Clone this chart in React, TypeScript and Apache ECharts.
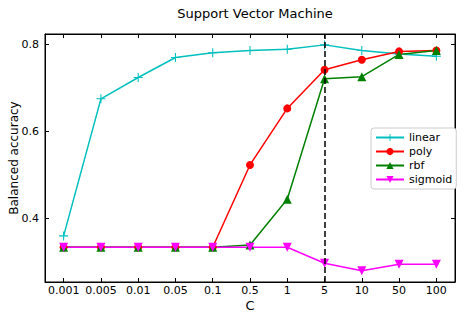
import React, { useEffect, useRef } from "react";
import * as echarts from "echarts";

const categories = ["0.001", "0.005", "0.01", "0.05", "0.1", "0.5", "1", "5", "10", "50", "100"];
const linear = [0.359, 0.674, 0.723, 0.769, 0.78, 0.785, 0.788, 0.798, 0.785, 0.777, 0.772];
const poly = [0.333, 0.333, 0.333, 0.333, 0.333, 0.522, 0.652, 0.741, 0.764, 0.783, 0.785];
const rbf = [0.333, 0.333, 0.333, 0.333, 0.333, 0.338, 0.443, 0.72, 0.725, 0.776, 0.785];
const sigmoid = [0.333, 0.333, 0.333, 0.333, 0.333, 0.333, 0.333, 0.296, 0.279, 0.294, 0.294];
const yTicks = [0.4, 0.6, 0.8];
const bestC = "5";

const FONT = "DejaVu Sans";
const PLUS =
  "path://M-0.12,-1 L0.12,-1 L0.12,-0.12 L1,-0.12 L1,0.12 L0.12,0.12 L0.12,1 L-0.12,1 L-0.12,0.12 L-1,0.12 L-1,-0.12 L-0.12,-0.12 Z";
const DOWN_TRI = "path://M0,1 L-1,-0.8 L1,-0.8 Z";

export default function App() {
  const ref = useRef<HTMLDivElement>(null);
  useEffect(() => {
    if (!ref.current) return;
    const chart = echarts.init(ref.current, undefined, { renderer: "svg" });
    const tickCommon = { show: true, inside: true, length: 4, lineStyle: { color: "#000", width: 1 } };
    const mk = (name: string, data: number[], color: string, symbol: string, size: number, extra: any = {}) => ({
      name,
      type: "line",
      data,
      symbol,
      symbolSize: size,
      showSymbol: true,
      lineStyle: { color, width: 1.5 },
      itemStyle: { color },
      ...extra,
    });
    chart.setOption({
      animation: false,
      backgroundColor: "#fff",
      textStyle: { fontFamily: FONT },
      title: {
        text: "Support Vector Machine",
        left: 250,
        textAlign: "center",
        top: 2,
        textStyle: { fontFamily: FONT, fontSize: 13, fontWeight: "normal", color: "#000" },
      },
      grid: {
        left: 45,
        right: 9,
        top: 34,
        bottom: 35,
        outerBoundsMode: "none",
        containLabel: false,
        show: true,
        borderColor: "#000",
        borderWidth: 1,
        backgroundColor: "transparent",
      },
      legend: {
        orient: "vertical",
        left: 371,
        top: 128,
        itemWidth: 28,
        itemHeight: 9,
        itemGap: 3,
        padding: [4, 4, 4, 4],
        backgroundColor: "#fff",
        borderColor: "#ccc",
        borderWidth: 1,
        borderRadius: 3,
        textStyle: { fontFamily: FONT, fontSize: 11, color: "#000" },
        data: ["linear", "poly", "rbf", "sigmoid"],
      },
      xAxis: [
        {
          type: "category",
          data: categories,
          boundaryGap: true,
          name: "C",
          nameLocation: "middle",
          nameGap: 17,
          nameMoveOverlap: false,
          nameTextStyle: { fontFamily: FONT, fontSize: 13, color: "#000" },
          axisLine: { show: true, lineStyle: { color: "#000" } },
          axisTick: { ...tickCommon, alignWithLabel: true, interval: 0 },
          axisLabel: { fontFamily: FONT, fontSize: 11, color: "#000", margin: 3, interval: 0 },
          splitLine: { show: false },
        },
        {
          type: "category",
          data: categories,
          position: "top",
          boundaryGap: true,
          axisLine: { show: true, lineStyle: { color: "#000" } },
          axisTick: { ...tickCommon, alignWithLabel: true, interval: 0 },
          axisLabel: { show: false, interval: 0 },
          splitLine: { show: false },
        },
      ],
      yAxis: [
        {
          type: "value",
          min: 0.253,
          max: 0.823,
          name: "Balanced accuracy",
          nameLocation: "middle",
          nameGap: 25,
          nameMoveOverlap: false,
          nameTextStyle: { fontFamily: FONT, fontSize: 12, color: "#000" },
          axisLine: { show: true, lineStyle: { color: "#000" } },
          axisTick: { ...tickCommon, customValues: yTicks },
          axisLabel: { fontFamily: FONT, fontSize: 11, color: "#000", margin: 6, customValues: yTicks, formatter: (v: number) => v.toFixed(1) },
          splitLine: { show: false },
        },
        {
          type: "value",
          min: 0.253,
          max: 0.823,
          position: "right",
          axisLine: { show: true, lineStyle: { color: "#000" } },
          axisTick: { ...tickCommon, customValues: yTicks },
          axisLabel: { show: false, customValues: yTicks },
          splitLine: { show: false },
        },
      ],
      series: [
        mk("linear", linear, "#00BFBF", PLUS, 9, {
          markLine: {
            silent: true,
            symbol: "none",
            label: { show: false },
            lineStyle: { color: "#000", type: [6, 3], width: 1.5 },
            data: [{ xAxis: bestC }],
            z: 10,
          },
        }),
        mk("poly", poly, "#FF0000", "circle", 8),
        mk("rbf", rbf, "#008000", "triangle", 9),
        mk("sigmoid", sigmoid, "#FF00FF", DOWN_TRI, 9),
      ],
    });
    return () => chart.dispose();
  }, []);
  return <div ref={ref} style={{ position: "absolute", left: 0, top: 0, width: 464, height: 317 }} />;
}
